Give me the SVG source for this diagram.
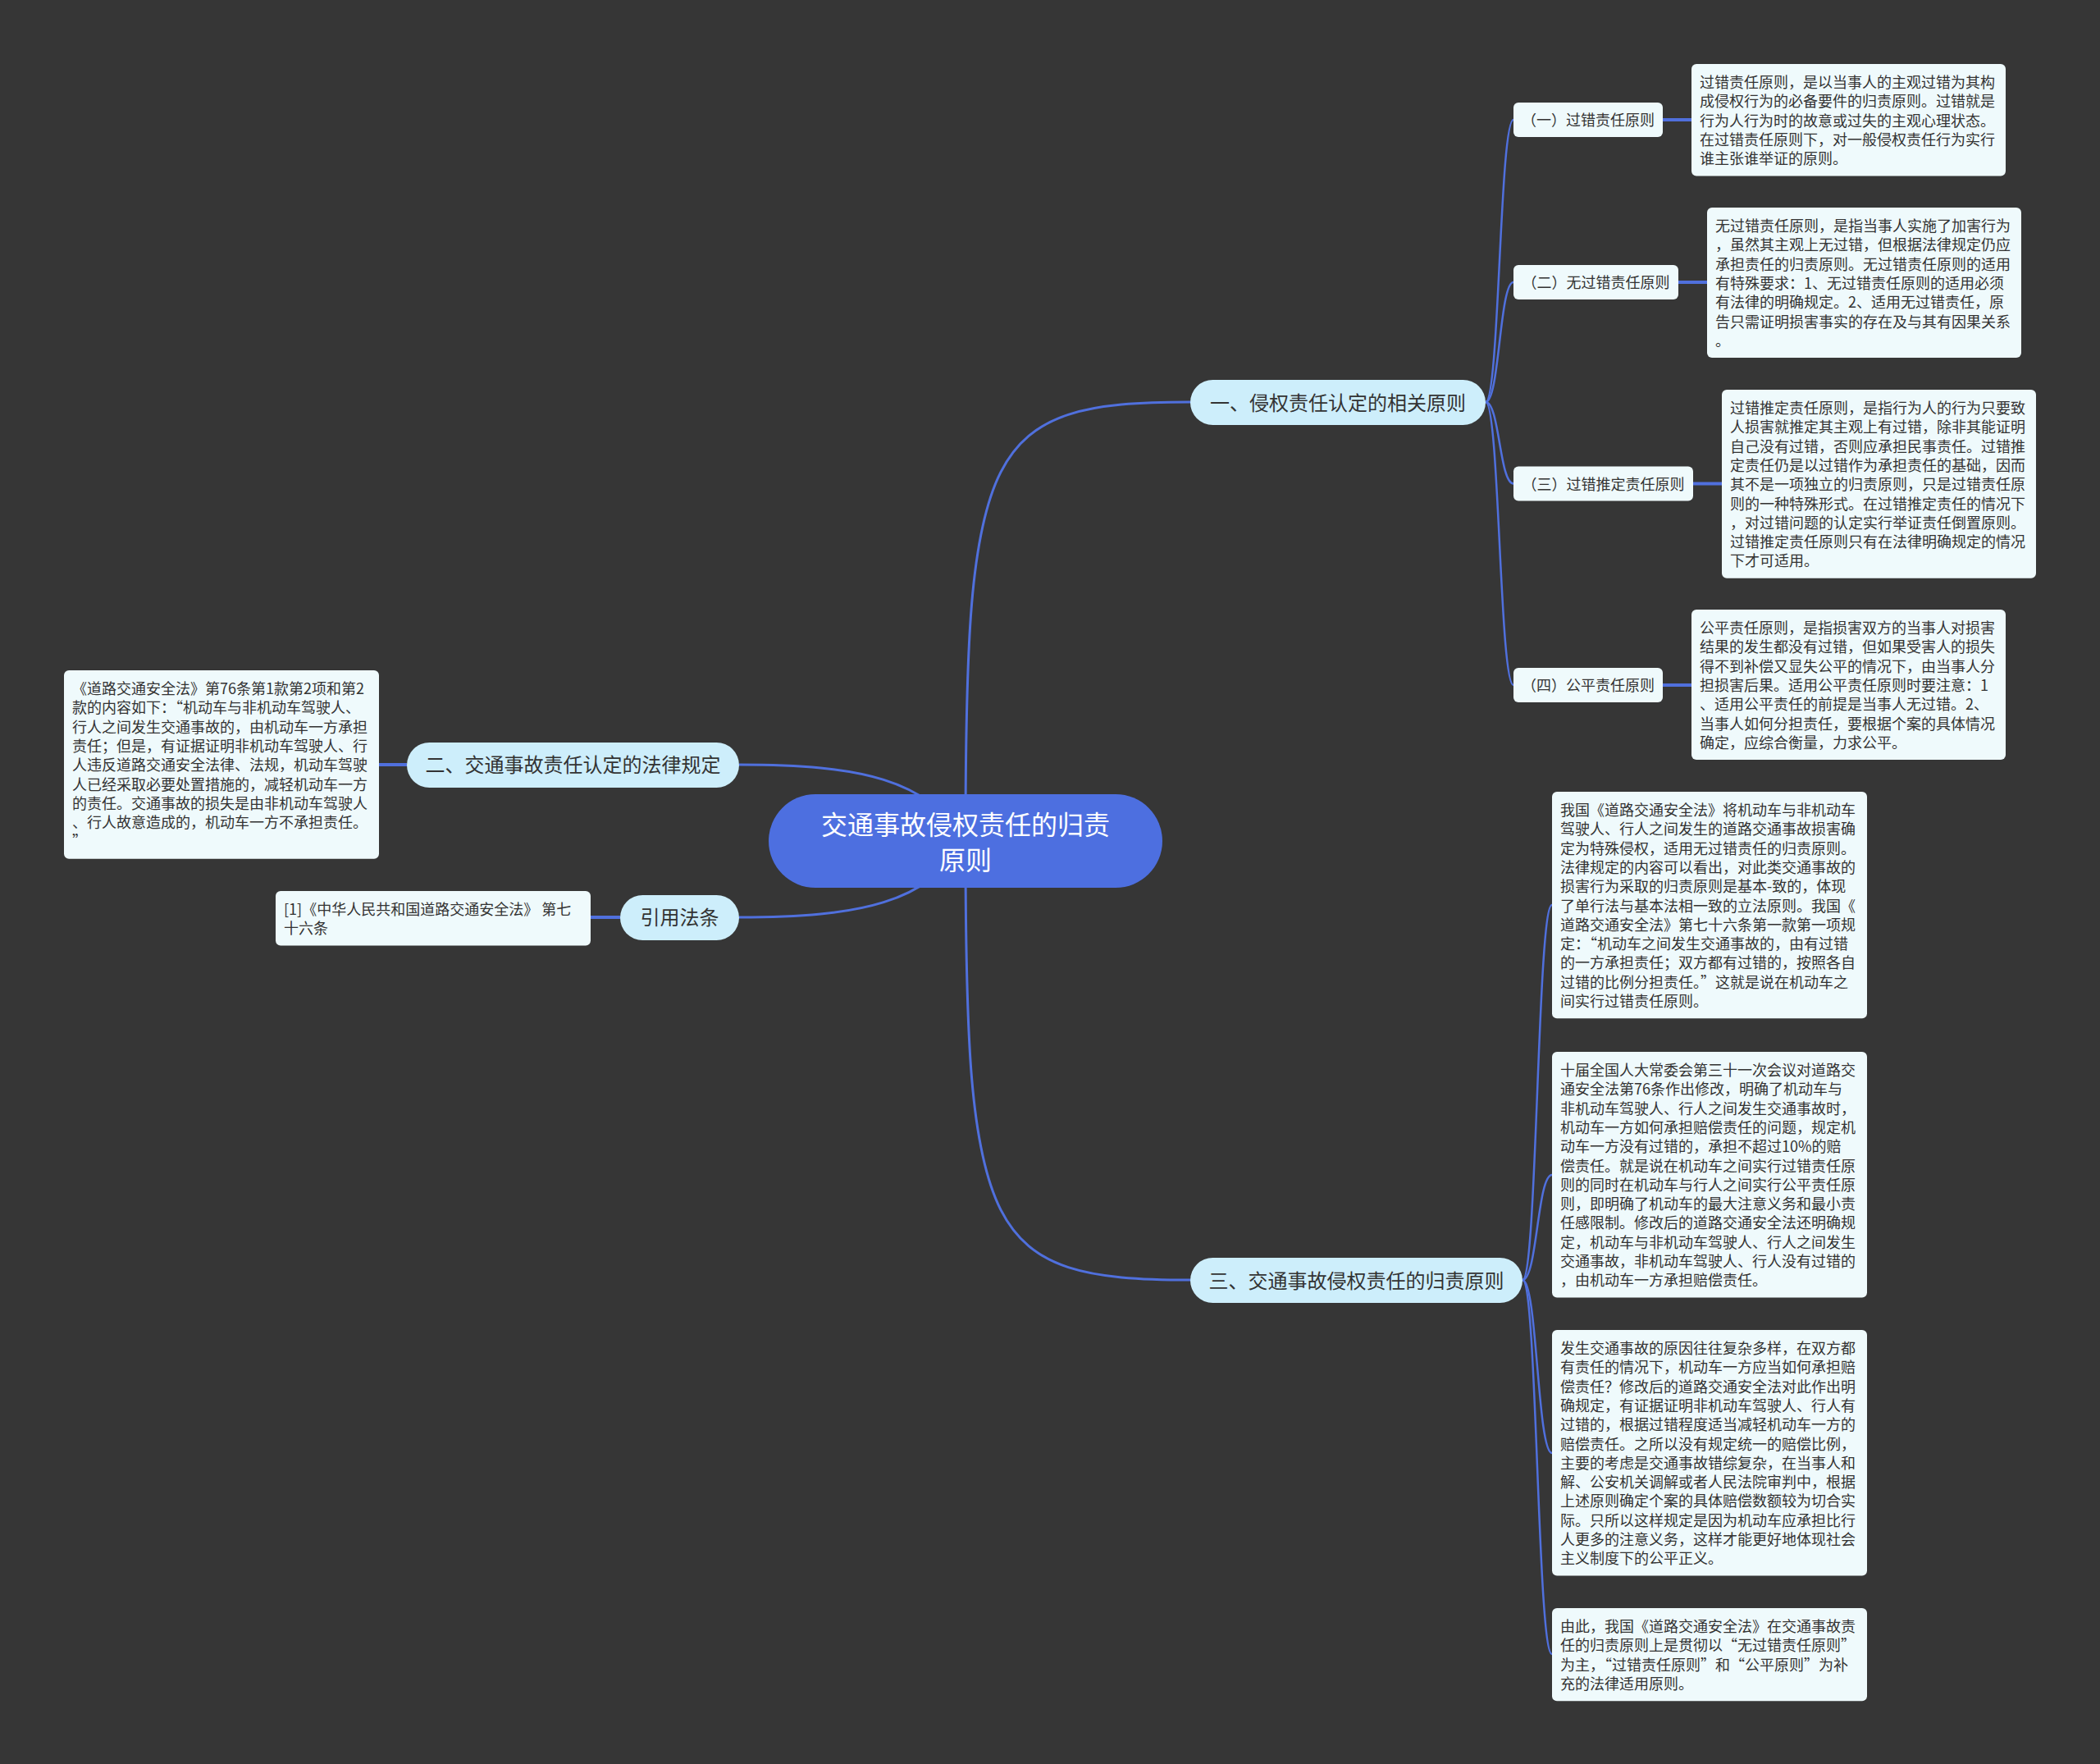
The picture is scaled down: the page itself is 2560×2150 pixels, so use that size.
<svg xmlns="http://www.w3.org/2000/svg" width="2560" height="2150" viewBox="0 0 2560 2150">
<style>
.bg{fill:#363636}
.leaf{fill:#effafc}
.sub{fill:#effafc}
.l1{fill:#cdeefb}
.root{fill:#4d6fe0}
.t18{font-family:"Noto Sans CJK SC","Noto Sans",sans-serif;font-size:18px;fill:#333333}
.t24{font-family:"Noto Sans CJK SC","Noto Sans",sans-serif;font-size:24px;fill:#333333;text-anchor:middle}
.t32{font-family:"Noto Sans CJK SC","Noto Sans",sans-serif;font-size:32px;fill:#ffffff;text-anchor:middle}
.mid{text-anchor:middle}
.link{fill:none;stroke:#5070dd;stroke-width:3}
.spine{fill:none;stroke:#5070dd;stroke-width:2.5}
.short{fill:none;stroke:#5070dd;stroke-width:4}
</style>
<rect class="bg" x="0" y="0" width="2560" height="2150"/>
<g id="connectors">
<path class="link" d="M1177,1025 C1177,540 1200,490 1451,490"/>
<path class="link" d="M1177,1025 C1177,1510 1200,1560 1451,1560"/>
<path class="link" d="M1177,1025 C1130,950 1050,932 901,932"/>
<path class="link" d="M1177,1025 C1130,1100 1050,1118 901,1118"/>
<path class="short" d="M462,932 L496,932"/>
<path class="short" d="M720,1118 L756,1118"/>
<path class="spine" d="M1811,490 C1828,490 1828,146 1845,146"/>
<path class="spine" d="M1811,490 C1828,490 1828,344 1845,344"/>
<path class="spine" d="M1811,490 C1828,490 1828,589.5 1845,589.5"/>
<path class="spine" d="M1811,490 C1828,490 1828,835 1845,835"/>
<path class="short" d="M2027,146 L2062,146"/>
<path class="short" d="M2046,344 L2081,344"/>
<path class="short" d="M2064,589.5 L2099,589.5"/>
<path class="short" d="M2027,835 L2062,835"/>
<path class="spine" d="M1856,1560 C1874,1560 1874,1103 1892,1103"/>
<path class="spine" d="M1856,1560 C1874,1560 1874,1432 1892,1432"/>
<path class="spine" d="M1856,1560 C1874,1560 1874,1771 1892,1771"/>
<path class="spine" d="M1856,1560 C1874,1560 1874,2016 1892,2016"/>
</g>
<g id="root">
<rect class="root" x="937" y="968" width="480" height="114" rx="57"/>
<text class="t32" x="1177" y="1017">交通事故侵权责任的归责</text>
<text class="t32" x="1177" y="1060">原则</text>
</g>
<g id="n1">
<rect class="l1" x="1451" y="463" width="360" height="55" rx="27.5"/>
<text class="t24" x="1631" y="499.5">一、侵权责任认定的相关原则</text>
</g>
<g id="n2">
<rect class="l1" x="496" y="905" width="405" height="55" rx="27.5"/>
<text class="t24" x="698.5" y="941">二、交通事故责任认定的法律规定</text>
</g>
<g id="n4">
<rect class="l1" x="756" y="1091" width="145" height="55" rx="27.5"/>
<text class="t24" x="828.5" y="1127">引用法条</text>
</g>
<g id="n3">
<rect class="l1" x="1451" y="1533" width="405" height="55" rx="27.5"/>
<text class="t24" x="1653.5" y="1569.5">三、交通事故侵权责任的归责原则</text>
</g>
<g id="s1">
<rect class="sub" x="1845" y="125" width="182" height="42" rx="6"/>
<text class="t18 mid" x="1936" y="153">（一）过错责任原则</text>
</g>
<g id="s2">
<rect class="sub" x="1845" y="323" width="201" height="42" rx="6"/>
<text class="t18 mid" x="1945.5" y="351">（二）无过错责任原则</text>
</g>
<g id="s3">
<rect class="sub" x="1845" y="568.5" width="219" height="42" rx="6"/>
<text class="t18 mid" x="1954.5" y="596.5">（三）过错推定责任原则</text>
</g>
<g id="s4">
<rect class="sub" x="1845" y="814" width="182" height="42" rx="6"/>
<text class="t18 mid" x="1936" y="842">（四）公平责任原则</text>
</g>
<g id="b1">
<rect class="leaf" x="2062" y="78" width="383" height="136.5" rx="6"/>
<text class="t18" x="2072" y="107"><tspan x="2072">过错责任原则，是以当事人的主观过错为其构</tspan><tspan x="2072" dy="23.3">成侵权行为的必备要件的归责原则。过错就是</tspan><tspan x="2072" dy="23.3">行为人行为时的故意或过失的主观心理状态。</tspan><tspan x="2072" dy="23.3">在过错责任原则下，对一般侵权责任行为实行</tspan><tspan x="2072" dy="23.3">谁主张谁举证的原则。</tspan></text>
</g>
<g id="b2">
<rect class="leaf" x="2081" y="253" width="383" height="183" rx="6"/>
<text class="t18" x="2091" y="282"><tspan x="2091">无过错责任原则，是指当事人实施了加害行为</tspan><tspan x="2091" dy="23.3">，虽然其主观上无过错，但根据法律规定仍应</tspan><tspan x="2091" dy="23.3">承担责任的归责原则。无过错责任原则的适用</tspan><tspan x="2091" dy="23.3">有特殊要求：1、无过错责任原则的适用必须</tspan><tspan x="2091" dy="23.3">有法律的明确规定。2、适用无过错责任，原</tspan><tspan x="2091" dy="23.3">告只需证明损害事实的存在及与其有因果关系</tspan><tspan x="2091" dy="23.3">。</tspan></text>
</g>
<g id="b3">
<rect class="leaf" x="2099" y="475" width="383" height="229.7" rx="6"/>
<text class="t18" x="2109" y="504"><tspan x="2109">过错推定责任原则，是指行为人的行为只要致</tspan><tspan x="2109" dy="23.3">人损害就推定其主观上有过错，除非其能证明</tspan><tspan x="2109" dy="23.3">自己没有过错，否则应承担民事责任。过错推</tspan><tspan x="2109" dy="23.3">定责任仍是以过错作为承担责任的基础，因而</tspan><tspan x="2109" dy="23.3">其不是一项独立的归责原则，只是过错责任原</tspan><tspan x="2109" dy="23.3">则的一种特殊形式。在过错推定责任的情况下</tspan><tspan x="2109" dy="23.3">，对过错问题的认定实行举证责任倒置原则。</tspan><tspan x="2109" dy="23.3">过错推定责任原则只有在法律明确规定的情况</tspan><tspan x="2109" dy="23.3">下才可适用。</tspan></text>
</g>
<g id="b4">
<rect class="leaf" x="2062" y="743" width="383" height="183" rx="6"/>
<text class="t18" x="2072" y="772"><tspan x="2072">公平责任原则，是指损害双方的当事人对损害</tspan><tspan x="2072" dy="23.3">结果的发生都没有过错，但如果受害人的损失</tspan><tspan x="2072" dy="23.3">得不到补偿又显失公平的情况下，由当事人分</tspan><tspan x="2072" dy="23.3">担损害后果。适用公平责任原则时要注意：1</tspan><tspan x="2072" dy="23.3">、适用公平责任的前提是当事人无过错。2、</tspan><tspan x="2072" dy="23.3">当事人如何分担责任，要根据个案的具体情况</tspan><tspan x="2072" dy="23.3">确定，应综合衡量，力求公平。</tspan></text>
</g>
<g id="b5">
<rect class="leaf" x="1892" y="965" width="384" height="276.3" rx="6"/>
<text class="t18" x="1902" y="994"><tspan x="1902">我国《道路交通安全法》将机动车与非机动车</tspan><tspan x="1902" dy="23.3">驾驶人、行人之间发生的道路交通事故损害确</tspan><tspan x="1902" dy="23.3">定为特殊侵权，适用无过错责任的归责原则。</tspan><tspan x="1902" dy="23.3">法律规定的内容可以看出，对此类交通事故的</tspan><tspan x="1902" dy="23.3">损害行为采取的归责原则是基本-致的，体现</tspan><tspan x="1902" dy="23.3">了单行法与基本法相一致的立法原则。我国《</tspan><tspan x="1902" dy="23.3">道路交通安全法》第七十六条第一款第一项规</tspan><tspan x="1902" dy="23.3">定：“机动车之间发生交通事故的，由有过错</tspan><tspan x="1902" dy="23.3">的一方承担责任；双方都有过错的，按照各自</tspan><tspan x="1902" dy="23.3">过错的比例分担责任。”这就是说在机动车之</tspan><tspan x="1902" dy="23.3">间实行过错责任原则。</tspan></text>
</g>
<g id="b6">
<rect class="leaf" x="1892" y="1282" width="384" height="299.6" rx="6"/>
<text class="t18" x="1902" y="1311"><tspan x="1902">十届全国人大常委会第三十一次会议对道路交</tspan><tspan x="1902" dy="23.3">通安全法第76条作出修改，明确了机动车与</tspan><tspan x="1902" dy="23.3">非机动车驾驶人、行人之间发生交通事故时，</tspan><tspan x="1902" dy="23.3">机动车一方如何承担赔偿责任的问题，规定机</tspan><tspan x="1902" dy="23.3">动车一方没有过错的，承担不超过10%的赔</tspan><tspan x="1902" dy="23.3">偿责任。就是说在机动车之间实行过错责任原</tspan><tspan x="1902" dy="23.3">则的同时在机动车与行人之间实行公平责任原</tspan><tspan x="1902" dy="23.3">则，即明确了机动车的最大注意义务和最小责</tspan><tspan x="1902" dy="23.3">任感限制。修改后的道路交通安全法还明确规</tspan><tspan x="1902" dy="23.3">定，机动车与非机动车驾驶人、行人之间发生</tspan><tspan x="1902" dy="23.3">交通事故，非机动车驾驶人、行人没有过错的</tspan><tspan x="1902" dy="23.3">，由机动车一方承担赔偿责任。</tspan></text>
</g>
<g id="b7">
<rect class="leaf" x="1892" y="1621" width="384" height="299.6" rx="6"/>
<text class="t18" x="1902" y="1650"><tspan x="1902">发生交通事故的原因往往复杂多样，在双方都</tspan><tspan x="1902" dy="23.3">有责任的情况下，机动车一方应当如何承担赔</tspan><tspan x="1902" dy="23.3">偿责任？修改后的道路交通安全法对此作出明</tspan><tspan x="1902" dy="23.3">确规定，有证据证明非机动车驾驶人、行人有</tspan><tspan x="1902" dy="23.3">过错的，根据过错程度适当减轻机动车一方的</tspan><tspan x="1902" dy="23.3">赔偿责任。之所以没有规定统一的赔偿比例，</tspan><tspan x="1902" dy="23.3">主要的考虑是交通事故错综复杂，在当事人和</tspan><tspan x="1902" dy="23.3">解、公安机关调解或者人民法院审判中，根据</tspan><tspan x="1902" dy="23.3">上述原则确定个案的具体赔偿数额较为切合实</tspan><tspan x="1902" dy="23.3">际。只所以这样规定是因为机动车应承担比行</tspan><tspan x="1902" dy="23.3">人更多的注意义务，这样才能更好地体现社会</tspan><tspan x="1902" dy="23.3">主义制度下的公平正义。</tspan></text>
</g>
<g id="b8">
<rect class="leaf" x="1892" y="1960" width="384" height="113.2" rx="6"/>
<text class="t18" x="1902" y="1989"><tspan x="1902">由此，我国《道路交通安全法》在交通事故责</tspan><tspan x="1902" dy="23.3">任的归责原则上是贯彻以“无过错责任原则”</tspan><tspan x="1902" dy="23.3">为主，“过错责任原则”和“公平原则”为补</tspan><tspan x="1902" dy="23.3">充的法律适用原则。</tspan></text>
</g>
<g id="b9">
<rect class="leaf" x="78" y="817" width="384" height="229.7" rx="6"/>
<text class="t18" x="88" y="846"><tspan x="88">《道路交通安全法》第76条第1款第2项和第2</tspan><tspan x="88" dy="23.3">款的内容如下：“机动车与非机动车驾驶人、</tspan><tspan x="88" dy="23.3">行人之间发生交通事故的，由机动车一方承担</tspan><tspan x="88" dy="23.3">责任；但是，有证据证明非机动车驾驶人、行</tspan><tspan x="88" dy="23.3">人违反道路交通安全法律、法规，机动车驾驶</tspan><tspan x="88" dy="23.3">人已经采取必要处置措施的，减轻机动车一方</tspan><tspan x="88" dy="23.3">的责任。交通事故的损失是由非机动车驾驶人</tspan><tspan x="88" dy="23.3">、行人故意造成的，机动车一方不承担责任。</tspan><tspan x="88" dy="23.3">”</tspan></text>
</g>
<g id="b10">
<rect class="leaf" x="336" y="1086" width="384" height="66.6" rx="6"/>
<text class="t18" x="346" y="1115"><tspan x="346">[1]《中华人民共和国道路交通安全法》 第七</tspan><tspan x="346" dy="23.3">十六条</tspan></text>
</g>
</svg>
